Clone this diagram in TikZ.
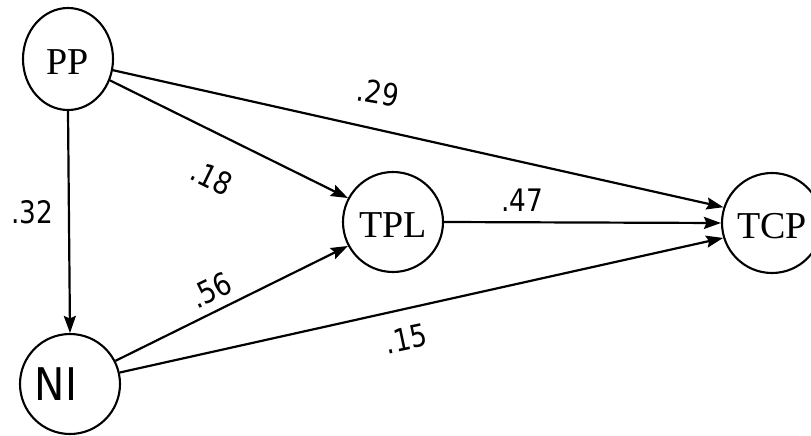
\documentclass[tikz,border=0pt]{standalone}
\usepackage{fontspec}
\usepackage{graphicx}
\usetikzlibrary{arrows.meta,shapes.geometric}
\newfontfamily\nodefont{Liberation Serif}
\newfontfamily\labfont{DejaVu Sans}
\newcommand\coeftxt[1]{\scalebox{0.85}[1]{#1}}
\begin{document}
\begin{tikzpicture}[x=1pt,y=-1pt,
  var/.style={draw, line width=2.1pt, circle, minimum size=100pt, inner sep=0pt,
    font=\nodefont\fontsize{38}{40}\selectfont, text height=31pt, text depth=0pt},
  arr/.style={line width=2.2pt, -{Stealth[length=17pt,width=12pt,inset=2.5pt]}},
  coef/.style={font=\labfont\fontsize{31}{33}\selectfont, inner sep=0pt}]
\useasboundingbox[fill=white] (0,0) rectangle (811,436);
% variables
\node[var, ellipse, minimum width=90pt, minimum height=102pt] (PP) at (68,59) {PP};
\node[var] (NI) at (70,384) {};
\node[font=\labfont\fontsize{45}{47}\selectfont, inner sep=0pt] (NIt) at (56,384) {\scalebox{0.9}[1]{NI}};
\node[var] (TPL) at (393,222) {TPL};
\node[var] (TCP) at (772,223) {TCP};
% paths
\draw[arr] (PP.south) -- (NI.north);
\draw[arr] (PP.-27) -- (TPL.152);
\draw[arr] (PP.-14) -- (TCP.162);
\draw[arr] (NI.27) -- (TPL.208);
\draw[arr] (NI.13) -- (TCP.197);
\draw[arr] (TPL.east) -- (TCP.west);
% coefficients
\node[coef] (c32) at (32,212) {\coeftxt{.32}};
\node[coef] (c47) at (522,200) {\coeftxt{.47}};
\node[coef, rotate=-10] (c29) at (378,93) {\coeftxt{.29}};
\node[coef, rotate=12] (c15) at (406,339) {\coeftxt{.15}};
\node[coef, rotate=-26] (c18) at (212,178) {\coeftxt{.18}};
\node[coef, rotate=26] (c56) at (211,290) {\coeftxt{.56}};
\end{tikzpicture}
\end{document}
